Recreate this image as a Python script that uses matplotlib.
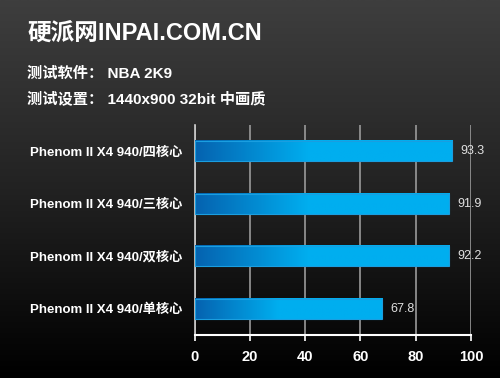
import matplotlib
matplotlib.use("Agg")
import matplotlib.pyplot as plt
from matplotlib.colors import LinearSegmentedColormap
import numpy as np

plt.rcParams['font.family'] = ['Liberation Sans', 'Noto Sans CJK SC', 'DejaVu Sans']

title = '硬派网INPAI.COM.CN'
subtitle_1 = '测试软件： NBA 2K9'
subtitle_2 = '测试设置： 1440x900 32bit 中画质'
labels = ['Phenom II X4 940/单核心', 'Phenom II X4 940/双核心',
          'Phenom II X4 940/三核心', 'Phenom II X4 940/四核心']
values = [67.8, 92.2, 91.9, 93.3]
xticks = [0, 20, 40, 60, 80, 100]

fig = plt.figure(figsize=(5, 3.78), dpi=100)

# background gradient (grey top -> black bottom)
bg = fig.add_axes([0, 0, 1, 1])
bg_grad = np.linspace(0, 1, 256).reshape(-1, 1)
bg_cmap = LinearSegmentedColormap.from_list('bg', ['#3e3e3e', '#222222', '#000000'])
bg.imshow(bg_grad, aspect='auto', cmap=bg_cmap, extent=[0, 1, 0, 1], origin='upper')
bg.set_axis_off()

fig.text(27 / 500, 1 - 33 / 378, title, color='white', fontsize=17,
         fontweight='bold', va='center', ha='left')
fig.text(27 / 500, 1 - 74 / 378, subtitle_1, color='white', fontsize=11,
         fontweight='bold', va='center', ha='left')
fig.text(27 / 500, 1 - 99 / 378, subtitle_2, color='white', fontsize=11,
         fontweight='bold', va='center', ha='left')

ax = fig.add_axes([194.5 / 500, 1 - 335 / 378, 276.5 / 500, 210 / 378])
ax.patch.set_alpha(0)

bar_cmap = LinearSegmentedColormap.from_list('bar', ['#0563b0', '#00aeef'])
height = 0.39
ypos = np.arange(len(values))
for y, v in zip(ypos, values):
    g = np.concatenate([np.linspace(0, 1, 45), np.ones(55)]).reshape(1, -1)
    ax.imshow(g, aspect='auto', cmap=bar_cmap, zorder=3,
              extent=[0, v, y - height / 2, y + height / 2])
    ax.barh(y, v, height=height, facecolor='none', edgecolor='#1a9ee0',
            linewidth=0.8, zorder=4)
    ax.text(v + 3, y, f'{v:.1f}', color='#e0e0e0', fontsize=9,
            va='center', ha='left')

ax.set_xlim(0, 100)
ax.set_ylim(-0.5, 3.5)
ax.set_yticks(ypos)
ax.set_yticklabels(labels, color='white', fontsize=9.5, fontweight='bold')
ax.set_xticks(xticks)
ax.set_xticklabels([str(t) for t in xticks], color='white', fontsize=10.5,
                   fontweight='bold')
ax.tick_params(axis='y', length=0, pad=9)
ax.tick_params(axis='x', colors='white', length=4, width=1.2, pad=7,
               labelcolor='white')
ax.grid(axis='x', color='#9a9a9a', linewidth=1.2, zorder=1)
ax.set_axisbelow(True)
for s in ['top', 'right']:
    ax.spines[s].set_visible(False)
ax.spines['left'].set_color('#d0d0d0')
ax.spines['bottom'].set_color('white')
ax.spines['left'].set_linewidth(1.2)
ax.spines['bottom'].set_linewidth(1.5)

fig.savefig('out.png', dpi=100)
